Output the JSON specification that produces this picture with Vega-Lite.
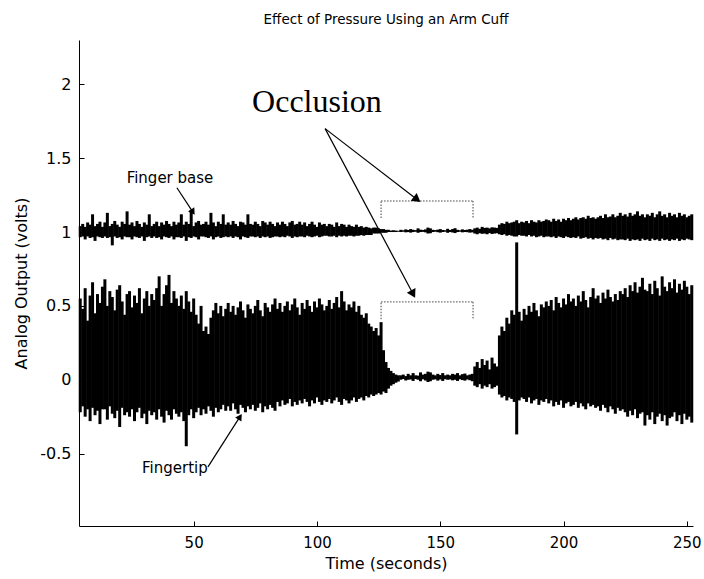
{
 "$schema": "https://vega.github.io/schema/vega-lite/v6.json",
 "width": 614, "height": 486,
 "autosize": {"type": "none"},
 "padding": {"left": 79, "top": 40, "right": 11, "bottom": 53},
 "background": "white",
 "config": {
  "view": {"stroke": null},
  "axis": {"grid": false, "domainColor": "black", "tickColor": "black", "labelColor": "black", "titleColor": "black", "labelFont": "DejaVu Sans", "titleFont": "DejaVu Sans", "titleFontWeight": "normal", "domainWidth": 1, "tickWidth": 1}
 },
 "title": {"text": "Effect of Pressure Using an Arm Cuff", "font": "DejaVu Sans", "fontSize": 13.5, "fontWeight": "normal", "color": "black", "anchor": "middle", "offset": 14},
 "datasets": {
  "signal": [
{"t":4,"tipHi":0.55,"tipLo":-0.22,"baseHi":1.04,"baseLo":0.965},
{"t":5,"tipHi":0.48,"tipLo":-0.18,"baseHi":1.055,"baseLo":0.97},
{"t":6,"tipHi":0.62,"tipLo":-0.25,"baseHi":1.035,"baseLo":0.95},
{"t":7,"tipHi":0.40,"tipLo":-0.20,"baseHi":1.065,"baseLo":0.97},
{"t":8,"tipHi":0.57,"tipLo":-0.28,"baseHi":1.05,"baseLo":0.96},
{"t":9,"tipHi":0.66,"tipLo":-0.19,"baseHi":1.12,"baseLo":0.965},
{"t":10,"tipHi":0.45,"tipLo":-0.24,"baseHi":1.04,"baseLo":0.94},
{"t":11,"tipHi":0.58,"tipLo":-0.21,"baseHi":1.055,"baseLo":0.97},
{"t":12,"tipHi":0.52,"tipLo":-0.30,"baseHi":1.07,"baseLo":0.965},
{"t":13,"tipHi":0.63,"tipLo":-0.20,"baseHi":1.035,"baseLo":0.96},
{"t":14,"tipHi":0.68,"tipLo":-0.20,"baseHi":1.065,"baseLo":0.97},
{"t":15,"tipHi":0.50,"tipLo":-0.27,"baseHi":1.13,"baseLo":0.96},
{"t":16,"tipHi":0.60,"tipLo":-0.18,"baseHi":1.04,"baseLo":0.965},
{"t":17,"tipHi":0.56,"tipLo":-0.23,"baseHi":1.055,"baseLo":0.91},
{"t":18,"tipHi":0.47,"tipLo":-0.26,"baseHi":1.075,"baseLo":0.97},
{"t":19,"tipHi":0.61,"tipLo":-0.21,"baseHi":1.05,"baseLo":0.96},
{"t":20,"tipHi":0.64,"tipLo":-0.32,"baseHi":1.035,"baseLo":0.965},
{"t":21,"tipHi":0.53,"tipLo":-0.19,"baseHi":1.07,"baseLo":0.95},
{"t":22,"tipHi":0.44,"tipLo":-0.24,"baseHi":1.055,"baseLo":0.97},
{"t":23,"tipHi":0.58,"tipLo":-0.22,"baseHi":1.14,"baseLo":0.965},
{"t":24,"tipHi":0.60,"tipLo":-0.25,"baseHi":1.05,"baseLo":0.965},
{"t":25,"tipHi":0.49,"tipLo":-0.20,"baseHi":1.065,"baseLo":0.95},
{"t":26,"tipHi":0.57,"tipLo":-0.28,"baseHi":1.04,"baseLo":0.97},
{"t":27,"tipHi":0.52,"tipLo":-0.22,"baseHi":1.075,"baseLo":0.965},
{"t":28,"tipHi":0.62,"tipLo":-0.19,"baseHi":1.055,"baseLo":0.96},
{"t":29,"tipHi":0.45,"tipLo":-0.26,"baseHi":1.035,"baseLo":0.97},
{"t":30,"tipHi":0.55,"tipLo":-0.23,"baseHi":1.065,"baseLo":0.94},
{"t":31,"tipHi":0.60,"tipLo":-0.30,"baseHi":1.05,"baseLo":0.965},
{"t":32,"tipHi":0.50,"tipLo":-0.21,"baseHi":1.12,"baseLo":0.97},
{"t":33,"tipHi":0.58,"tipLo":-0.24,"baseHi":1.04,"baseLo":0.96},
{"t":34,"tipHi":0.54,"tipLo":-0.22,"baseHi":1.055,"baseLo":0.97},
{"t":35,"tipHi":0.62,"tipLo":-0.27,"baseHi":1.07,"baseLo":0.96},
{"t":36,"tipHi":0.70,"tipLo":-0.20,"baseHi":1.04,"baseLo":0.965},
{"t":37,"tipHi":0.50,"tipLo":-0.25,"baseHi":1.065,"baseLo":0.95},
{"t":38,"tipHi":0.58,"tipLo":-0.29,"baseHi":1.05,"baseLo":0.97},
{"t":39,"tipHi":0.64,"tipLo":-0.21,"baseHi":1.075,"baseLo":0.965},
{"t":40,"tipHi":0.71,"tipLo":-0.24,"baseHi":1.055,"baseLo":0.96},
{"t":41,"tipHi":0.52,"tipLo":-0.27,"baseHi":1.04,"baseLo":0.97},
{"t":42,"tipHi":0.60,"tipLo":-0.20,"baseHi":1.07,"baseLo":0.95},
{"t":43,"tipHi":0.55,"tipLo":-0.23,"baseHi":1.05,"baseLo":0.965},
{"t":44,"tipHi":0.50,"tipLo":-0.25,"baseHi":1.065,"baseLo":0.965},
{"t":45,"tipHi":0.57,"tipLo":-0.22,"baseHi":1.12,"baseLo":0.96},
{"t":46,"tipHi":0.48,"tipLo":-0.28,"baseHi":1.05,"baseLo":0.97},
{"t":47,"tipHi":0.60,"tipLo":-0.45,"baseHi":1.07,"baseLo":0.94},
{"t":48,"tipHi":0.53,"tipLo":-0.24,"baseHi":1.055,"baseLo":0.965},
{"t":49,"tipHi":0.46,"tipLo":-0.20,"baseHi":1.15,"baseLo":0.96},
{"t":50,"tipHi":0.55,"tipLo":-0.26,"baseHi":1.04,"baseLo":0.97},
{"t":51,"tipHi":0.44,"tipLo":-0.22,"baseHi":1.065,"baseLo":0.965},
{"t":52,"tipHi":0.38,"tipLo":-0.19,"baseHi":1.075,"baseLo":0.95},
{"t":53,"tipHi":0.50,"tipLo":-0.24,"baseHi":1.05,"baseLo":0.97},
{"t":54,"tipHi":0.33,"tipLo":-0.20,"baseHi":1.055,"baseLo":0.97},
{"t":55,"tipHi":0.36,"tipLo":-0.23,"baseHi":1.07,"baseLo":0.965},
{"t":56,"tipHi":0.31,"tipLo":-0.18,"baseHi":1.05,"baseLo":0.96},
{"t":57,"tipHi":0.42,"tipLo":-0.21,"baseHi":1.13,"baseLo":0.97},
{"t":58,"tipHi":0.47,"tipLo":-0.25,"baseHi":1.065,"baseLo":0.95},
{"t":59,"tipHi":0.52,"tipLo":-0.19,"baseHi":1.04,"baseLo":0.965},
{"t":60,"tipHi":0.45,"tipLo":-0.22,"baseHi":1.07,"baseLo":0.97},
{"t":61,"tipHi":0.50,"tipLo":-0.20,"baseHi":1.055,"baseLo":0.96},
{"t":62,"tipHi":0.43,"tipLo":-0.17,"baseHi":1.12,"baseLo":0.965},
{"t":63,"tipHi":0.48,"tipLo":-0.21,"baseHi":1.05,"baseLo":0.97},
{"t":64,"tipHi":0.52,"tipLo":-0.18,"baseHi":1.065,"baseLo":0.965},
{"t":65,"tipHi":0.46,"tipLo":-0.21,"baseHi":1.05,"baseLo":0.97},
{"t":66,"tipHi":0.50,"tipLo":-0.16,"baseHi":1.075,"baseLo":0.96},
{"t":67,"tipHi":0.44,"tipLo":-0.20,"baseHi":1.055,"baseLo":0.97},
{"t":68,"tipHi":0.49,"tipLo":-0.23,"baseHi":1.04,"baseLo":0.965},
{"t":69,"tipHi":0.53,"tipLo":-0.17,"baseHi":1.07,"baseLo":0.95},
{"t":70,"tipHi":0.47,"tipLo":-0.19,"baseHi":1.065,"baseLo":0.97},
{"t":71,"tipHi":0.42,"tipLo":-0.22,"baseHi":1.05,"baseLo":0.965},
{"t":72,"tipHi":0.51,"tipLo":-0.18,"baseHi":1.12,"baseLo":0.96},
{"t":73,"tipHi":0.48,"tipLo":-0.20,"baseHi":1.055,"baseLo":0.97},
{"t":74,"tipHi":0.45,"tipLo":-0.17,"baseHi":1.05,"baseLo":0.97},
{"t":75,"tipHi":0.50,"tipLo":-0.21,"baseHi":1.07,"baseLo":0.965},
{"t":76,"tipHi":0.54,"tipLo":-0.19,"baseHi":1.055,"baseLo":0.97},
{"t":77,"tipHi":0.47,"tipLo":-0.16,"baseHi":1.04,"baseLo":0.96},
{"t":78,"tipHi":0.43,"tipLo":-0.22,"baseHi":1.075,"baseLo":0.97},
{"t":79,"tipHi":0.52,"tipLo":-0.18,"baseHi":1.065,"baseLo":0.965},
{"t":80,"tipHi":0.49,"tipLo":-0.20,"baseHi":1.05,"baseLo":0.97},
{"t":81,"tipHi":0.46,"tipLo":-0.17,"baseHi":1.07,"baseLo":0.96},
{"t":82,"tipHi":0.51,"tipLo":-0.19,"baseHi":1.055,"baseLo":0.965},
{"t":83,"tipHi":0.55,"tipLo":-0.21,"baseHi":1.04,"baseLo":0.97},
{"t":84,"tipHi":0.48,"tipLo":-0.15,"baseHi":1.065,"baseLo":0.97},
{"t":85,"tipHi":0.52,"tipLo":-0.18,"baseHi":1.05,"baseLo":0.965},
{"t":86,"tipHi":0.46,"tipLo":-0.14,"baseHi":1.07,"baseLo":0.97},
{"t":87,"tipHi":0.50,"tipLo":-0.17,"baseHi":1.055,"baseLo":0.965},
{"t":88,"tipHi":0.53,"tipLo":-0.16,"baseHi":1.04,"baseLo":0.975},
{"t":89,"tipHi":0.47,"tipLo":-0.13,"baseHi":1.065,"baseLo":0.97},
{"t":90,"tipHi":0.51,"tipLo":-0.18,"baseHi":1.075,"baseLo":0.96},
{"t":91,"tipHi":0.55,"tipLo":-0.15,"baseHi":1.05,"baseLo":0.97},
{"t":92,"tipHi":0.49,"tipLo":-0.17,"baseHi":1.055,"baseLo":0.965},
{"t":93,"tipHi":0.44,"tipLo":-0.14,"baseHi":1.07,"baseLo":0.97},
{"t":94,"tipHi":0.52,"tipLo":-0.16,"baseHi":1.05,"baseLo":0.97},
{"t":95,"tipHi":0.48,"tipLo":-0.13,"baseHi":1.065,"baseLo":0.965},
{"t":96,"tipHi":0.54,"tipLo":-0.15,"baseHi":1.04,"baseLo":0.975},
{"t":97,"tipHi":0.50,"tipLo":-0.18,"baseHi":1.055,"baseLo":0.97},
{"t":98,"tipHi":0.46,"tipLo":-0.14,"baseHi":1.07,"baseLo":0.965},
{"t":99,"tipHi":0.53,"tipLo":-0.16,"baseHi":1.05,"baseLo":0.97},
{"t":100,"tipHi":0.49,"tipLo":-0.12,"baseHi":1.035,"baseLo":0.975},
{"t":101,"tipHi":0.55,"tipLo":-0.15,"baseHi":1.065,"baseLo":0.965},
{"t":102,"tipHi":0.51,"tipLo":-0.17,"baseHi":1.05,"baseLo":0.97},
{"t":103,"tipHi":0.47,"tipLo":-0.14,"baseHi":1.055,"baseLo":0.975},
{"t":104,"tipHi":0.50,"tipLo":-0.15,"baseHi":1.04,"baseLo":0.975},
{"t":105,"tipHi":0.54,"tipLo":-0.13,"baseHi":1.055,"baseLo":0.97},
{"t":106,"tipHi":0.48,"tipLo":-0.16,"baseHi":1.05,"baseLo":0.97},
{"t":107,"tipHi":0.52,"tipLo":-0.14,"baseHi":1.035,"baseLo":0.975},
{"t":108,"tipHi":0.56,"tipLo":-0.12,"baseHi":1.065,"baseLo":0.965},
{"t":109,"tipHi":0.49,"tipLo":-0.15,"baseHi":1.04,"baseLo":0.975},
{"t":110,"tipHi":0.60,"tipLo":-0.17,"baseHi":1.055,"baseLo":0.97},
{"t":111,"tipHi":0.53,"tipLo":-0.13,"baseHi":1.05,"baseLo":0.975},
{"t":112,"tipHi":0.47,"tipLo":-0.14,"baseHi":1.035,"baseLo":0.97},
{"t":113,"tipHi":0.51,"tipLo":-0.16,"baseHi":1.05,"baseLo":0.975},
{"t":114,"tipHi":0.49,"tipLo":-0.14,"baseHi":1.04,"baseLo":0.975},
{"t":115,"tipHi":0.53,"tipLo":-0.12,"baseHi":1.035,"baseLo":0.97},
{"t":116,"tipHi":0.46,"tipLo":-0.15,"baseHi":1.05,"baseLo":0.975},
{"t":117,"tipHi":0.50,"tipLo":-0.13,"baseHi":1.035,"baseLo":0.975},
{"t":118,"tipHi":0.44,"tipLo":-0.12,"baseHi":1.04,"baseLo":0.98},
{"t":119,"tipHi":0.42,"tipLo":-0.14,"baseHi":1.03,"baseLo":0.975},
{"t":120,"tipHi":0.45,"tipLo":-0.11,"baseHi":1.035,"baseLo":0.98},
{"t":121,"tipHi":0.38,"tipLo":-0.12,"baseHi":1.03,"baseLo":0.98},
{"t":122,"tipHi":0.36,"tipLo":-0.10,"baseHi":1.025,"baseLo":0.98},
{"t":123,"tipHi":0.33,"tipLo":-0.11,"baseHi":1.03,"baseLo":0.99},
{"t":124,"tipHi":0.35,"tipLo":-0.10,"baseHi":1.03,"baseLo":0.99},
{"t":125,"tipHi":0.30,"tipLo":-0.09,"baseHi":1.025,"baseLo":0.99},
{"t":126,"tipHi":0.39,"tipLo":-0.10,"baseHi":1.02,"baseLo":0.995},
{"t":127,"tipHi":0.20,"tipLo":-0.08,"baseHi":1.02,"baseLo":0.995},
{"t":128,"tipHi":0.12,"tipLo":-0.09,"baseHi":1.015,"baseLo":0.995},
{"t":129,"tipHi":0.08,"tipLo":-0.06,"baseHi":1.015,"baseLo":1.0},
{"t":130,"tipHi":0.06,"tipLo":-0.04,"baseHi":1.01,"baseLo":1.0},
{"t":131,"tipHi":0.045,"tipLo":-0.03,"baseHi":1.012,"baseLo":1.0},
{"t":132,"tipHi":0.035,"tipLo":-0.02,"baseHi":1.01,"baseLo":1.0},
{"t":133,"tipHi":0.03,"tipLo":-0.012,"baseHi":1.008,"baseLo":1.002},
{"t":134,"tipHi":0.03,"tipLo":0.0,"baseHi":1.015,"baseLo":1.0},
{"t":135,"tipHi":0.035,"tipLo":0.005,"baseHi":1.012,"baseLo":1.002},
{"t":136,"tipHi":0.025,"tipLo":-0.005,"baseHi":1.018,"baseLo":0.998},
{"t":137,"tipHi":0.04,"tipLo":0.0,"baseHi":1.014,"baseLo":1.0},
{"t":138,"tipHi":0.03,"tipLo":0.002,"baseHi":1.02,"baseLo":0.996},
{"t":139,"tipHi":0.045,"tipLo":-0.008,"baseHi":1.015,"baseLo":1.0},
{"t":140,"tipHi":0.03,"tipLo":0.005,"baseHi":1.013,"baseLo":1.002},
{"t":141,"tipHi":0.028,"tipLo":0.0,"baseHi":1.025,"baseLo":0.995},
{"t":142,"tipHi":0.05,"tipLo":-0.01,"baseHi":1.016,"baseLo":1.0},
{"t":143,"tipHi":0.035,"tipLo":0.003,"baseHi":1.014,"baseLo":1.001},
{"t":144,"tipHi":0.04,"tipLo":-0.005,"baseHi":1.018,"baseLo":0.998},
{"t":145,"tipHi":0.055,"tipLo":-0.015,"baseHi":1.03,"baseLo":0.99},
{"t":146,"tipHi":0.05,"tipLo":-0.01,"baseHi":1.025,"baseLo":0.992},
{"t":147,"tipHi":0.035,"tipLo":0.0,"baseHi":1.015,"baseLo":1.0},
{"t":148,"tipHi":0.03,"tipLo":0.003,"baseHi":1.013,"baseLo":1.002},
{"t":149,"tipHi":0.04,"tipLo":-0.006,"baseHi":1.016,"baseLo":0.999},
{"t":150,"tipHi":0.032,"tipLo":0.002,"baseHi":1.02,"baseLo":0.996},
{"t":151,"tipHi":0.045,"tipLo":-0.008,"baseHi":1.014,"baseLo":1.0},
{"t":152,"tipHi":0.03,"tipLo":0.004,"baseHi":1.012,"baseLo":1.002},
{"t":153,"tipHi":0.035,"tipLo":0.0,"baseHi":1.022,"baseLo":0.995},
{"t":154,"tipHi":0.03,"tipLo":0.002,"baseHi":1.014,"baseLo":1.0},
{"t":155,"tipHi":0.04,"tipLo":-0.004,"baseHi":1.02,"baseLo":0.997},
{"t":156,"tipHi":0.035,"tipLo":0.0,"baseHi":1.026,"baseLo":0.993},
{"t":157,"tipHi":0.045,"tipLo":-0.008,"baseHi":1.015,"baseLo":1.0},
{"t":158,"tipHi":0.03,"tipLo":0.003,"baseHi":1.012,"baseLo":1.002},
{"t":159,"tipHi":0.038,"tipLo":-0.002,"baseHi":1.018,"baseLo":0.998},
{"t":160,"tipHi":0.042,"tipLo":-0.006,"baseHi":1.014,"baseLo":1.0},
{"t":161,"tipHi":0.03,"tipLo":0.002,"baseHi":1.016,"baseLo":0.999},
{"t":162,"tipHi":0.035,"tipLo":-0.003,"baseHi":1.02,"baseLo":0.996},
{"t":163,"tipHi":0.04,"tipLo":-0.01,"baseHi":1.015,"baseLo":0.998},
{"t":164,"tipHi":0.09,"tipLo":-0.04,"baseHi":1.025,"baseLo":0.99},
{"t":165,"tipHi":0.12,"tipLo":-0.05,"baseHi":1.03,"baseLo":0.985},
{"t":166,"tipHi":0.08,"tipLo":-0.03,"baseHi":1.022,"baseLo":0.992},
{"t":167,"tipHi":0.14,"tipLo":-0.06,"baseHi":1.035,"baseLo":0.988},
{"t":168,"tipHi":0.10,"tipLo":-0.04,"baseHi":1.028,"baseLo":0.99},
{"t":169,"tipHi":0.13,"tipLo":-0.05,"baseHi":1.03,"baseLo":0.985},
{"t":170,"tipHi":0.07,"tipLo":-0.03,"baseHi":1.025,"baseLo":0.993},
{"t":171,"tipHi":0.15,"tipLo":-0.06,"baseHi":1.032,"baseLo":0.987},
{"t":172,"tipHi":0.11,"tipLo":-0.05,"baseHi":1.03,"baseLo":0.99},
{"t":173,"tipHi":0.09,"tipLo":-0.04,"baseHi":1.028,"baseLo":0.992},
{"t":174,"tipHi":0.30,"tipLo":-0.10,"baseHi":1.05,"baseLo":0.985},
{"t":175,"tipHi":0.36,"tipLo":-0.12,"baseHi":1.06,"baseLo":0.98},
{"t":176,"tipHi":0.33,"tipLo":-0.11,"baseHi":1.055,"baseLo":0.985},
{"t":177,"tipHi":0.42,"tipLo":-0.14,"baseHi":1.07,"baseLo":0.975},
{"t":178,"tipHi":0.38,"tipLo":-0.12,"baseHi":1.06,"baseLo":0.98},
{"t":179,"tipHi":0.47,"tipLo":-0.13,"baseHi":1.065,"baseLo":0.975},
{"t":180,"tipHi":0.44,"tipLo":-0.15,"baseHi":1.07,"baseLo":0.97},
{"t":181,"tipHi":0.93,"tipLo":-0.37,"baseHi":1.08,"baseLo":0.97},
{"t":182,"tipHi":0.46,"tipLo":-0.14,"baseHi":1.06,"baseLo":0.98},
{"t":183,"tipHi":0.40,"tipLo":-0.12,"baseHi":1.07,"baseLo":0.975},
{"t":184,"tipHi":0.48,"tipLo":-0.13,"baseHi":1.065,"baseLo":0.975},
{"t":185,"tipHi":0.44,"tipLo":-0.15,"baseHi":1.075,"baseLo":0.97},
{"t":186,"tipHi":0.50,"tipLo":-0.12,"baseHi":1.06,"baseLo":0.98},
{"t":187,"tipHi":0.46,"tipLo":-0.16,"baseHi":1.08,"baseLo":0.97},
{"t":188,"tipHi":0.52,"tipLo":-0.14,"baseHi":1.07,"baseLo":0.975},
{"t":189,"tipHi":0.47,"tipLo":-0.13,"baseHi":1.065,"baseLo":0.965},
{"t":190,"tipHi":0.43,"tipLo":-0.17,"baseHi":1.08,"baseLo":0.97},
{"t":191,"tipHi":0.51,"tipLo":-0.14,"baseHi":1.07,"baseLo":0.975},
{"t":192,"tipHi":0.49,"tipLo":-0.15,"baseHi":1.075,"baseLo":0.965},
{"t":193,"tipHi":0.53,"tipLo":-0.13,"baseHi":1.085,"baseLo":0.97},
{"t":194,"tipHi":0.50,"tipLo":-0.16,"baseHi":1.08,"baseLo":0.97},
{"t":195,"tipHi":0.54,"tipLo":-0.14,"baseHi":1.07,"baseLo":0.965},
{"t":196,"tipHi":0.47,"tipLo":-0.18,"baseHi":1.09,"baseLo":0.97},
{"t":197,"tipHi":0.56,"tipLo":-0.15,"baseHi":1.075,"baseLo":0.96},
{"t":198,"tipHi":0.52,"tipLo":-0.17,"baseHi":1.085,"baseLo":0.97},
{"t":199,"tipHi":0.49,"tipLo":-0.14,"baseHi":1.07,"baseLo":0.965},
{"t":200,"tipHi":0.55,"tipLo":-0.19,"baseHi":1.09,"baseLo":0.96},
{"t":201,"tipHi":0.51,"tipLo":-0.16,"baseHi":1.08,"baseLo":0.97},
{"t":202,"tipHi":0.58,"tipLo":-0.15,"baseHi":1.095,"baseLo":0.965},
{"t":203,"tipHi":0.53,"tipLo":-0.18,"baseHi":1.08,"baseLo":0.96},
{"t":204,"tipHi":0.55,"tipLo":-0.17,"baseHi":1.09,"baseLo":0.965},
{"t":205,"tipHi":0.50,"tipLo":-0.15,"baseHi":1.10,"baseLo":0.96},
{"t":206,"tipHi":0.57,"tipLo":-0.19,"baseHi":1.085,"baseLo":0.97},
{"t":207,"tipHi":0.53,"tipLo":-0.16,"baseHi":1.095,"baseLo":0.955},
{"t":208,"tipHi":0.60,"tipLo":-0.18,"baseHi":1.10,"baseLo":0.96},
{"t":209,"tipHi":0.54,"tipLo":-0.20,"baseHi":1.09,"baseLo":0.965},
{"t":210,"tipHi":0.49,"tipLo":-0.16,"baseHi":1.11,"baseLo":0.955},
{"t":211,"tipHi":0.56,"tipLo":-0.18,"baseHi":1.095,"baseLo":0.96},
{"t":212,"tipHi":0.62,"tipLo":-0.17,"baseHi":1.10,"baseLo":0.95},
{"t":213,"tipHi":0.55,"tipLo":-0.19,"baseHi":1.09,"baseLo":0.96},
{"t":214,"tipHi":0.57,"tipLo":-0.18,"baseHi":1.10,"baseLo":0.955},
{"t":215,"tipHi":0.52,"tipLo":-0.21,"baseHi":1.11,"baseLo":0.96},
{"t":216,"tipHi":0.59,"tipLo":-0.17,"baseHi":1.095,"baseLo":0.95},
{"t":217,"tipHi":0.55,"tipLo":-0.19,"baseHi":1.12,"baseLo":0.955},
{"t":218,"tipHi":0.61,"tipLo":-0.22,"baseHi":1.10,"baseLo":0.945},
{"t":219,"tipHi":0.56,"tipLo":-0.18,"baseHi":1.105,"baseLo":0.96},
{"t":220,"tipHi":0.53,"tipLo":-0.20,"baseHi":1.12,"baseLo":0.95},
{"t":221,"tipHi":0.58,"tipLo":-0.23,"baseHi":1.10,"baseLo":0.955},
{"t":222,"tipHi":0.54,"tipLo":-0.19,"baseHi":1.11,"baseLo":0.945},
{"t":223,"tipHi":0.60,"tipLo":-0.21,"baseHi":1.13,"baseLo":0.95},
{"t":224,"tipHi":0.58,"tipLo":-0.20,"baseHi":1.11,"baseLo":0.95},
{"t":225,"tipHi":0.62,"tipLo":-0.22,"baseHi":1.12,"baseLo":0.945},
{"t":226,"tipHi":0.56,"tipLo":-0.25,"baseHi":1.105,"baseLo":0.955},
{"t":227,"tipHi":0.64,"tipLo":-0.21,"baseHi":1.13,"baseLo":0.94},
{"t":228,"tipHi":0.60,"tipLo":-0.24,"baseHi":1.11,"baseLo":0.95},
{"t":229,"tipHi":0.66,"tipLo":-0.20,"baseHi":1.12,"baseLo":0.945},
{"t":230,"tipHi":0.59,"tipLo":-0.26,"baseHi":1.14,"baseLo":0.95},
{"t":231,"tipHi":0.63,"tipLo":-0.23,"baseHi":1.11,"baseLo":0.94},
{"t":232,"tipHi":0.69,"tipLo":-0.22,"baseHi":1.12,"baseLo":0.955},
{"t":233,"tipHi":0.61,"tipLo":-0.31,"baseHi":1.10,"baseLo":0.945},
{"t":234,"tipHi":0.60,"tipLo":-0.24,"baseHi":1.12,"baseLo":0.95},
{"t":235,"tipHi":0.65,"tipLo":-0.27,"baseHi":1.11,"baseLo":0.94},
{"t":236,"tipHi":0.58,"tipLo":-0.22,"baseHi":1.13,"baseLo":0.955},
{"t":237,"tipHi":0.67,"tipLo":-0.30,"baseHi":1.10,"baseLo":0.945},
{"t":238,"tipHi":0.62,"tipLo":-0.25,"baseHi":1.12,"baseLo":0.95},
{"t":239,"tipHi":0.57,"tipLo":-0.23,"baseHi":1.14,"baseLo":0.94},
{"t":240,"tipHi":0.70,"tipLo":-0.28,"baseHi":1.11,"baseLo":0.955},
{"t":241,"tipHi":0.63,"tipLo":-0.24,"baseHi":1.12,"baseLo":0.945},
{"t":242,"tipHi":0.60,"tipLo":-0.31,"baseHi":1.10,"baseLo":0.95},
{"t":243,"tipHi":0.66,"tipLo":-0.26,"baseHi":1.13,"baseLo":0.94},
{"t":244,"tipHi":0.62,"tipLo":-0.25,"baseHi":1.11,"baseLo":0.95},
{"t":245,"tipHi":0.68,"tipLo":-0.22,"baseHi":1.12,"baseLo":0.945},
{"t":246,"tipHi":0.59,"tipLo":-0.28,"baseHi":1.10,"baseLo":0.955},
{"t":247,"tipHi":0.65,"tipLo":-0.24,"baseHi":1.13,"baseLo":0.94},
{"t":248,"tipHi":0.61,"tipLo":-0.30,"baseHi":1.11,"baseLo":0.95},
{"t":249,"tipHi":0.67,"tipLo":-0.23,"baseHi":1.12,"baseLo":0.945},
{"t":250,"tipHi":0.63,"tipLo":-0.27,"baseHi":1.10,"baseLo":0.955},
{"t":251,"tipHi":0.58,"tipLo":-0.25,"baseHi":1.11,"baseLo":0.95},
{"t":252,"tipHi":0.64,"tipLo":-0.29,"baseHi":1.12,"baseLo":0.945}
  ],
  "brackets": [
   {"t": 126, "v": 1.095, "t2": 126, "v2": 1.21},
   {"t": 126, "v": 1.21, "t2": 163.3, "v2": 1.21},
   {"t": 163.3, "v": 1.21, "t2": 163.3, "v2": 1.095},
   {"t": 126, "v": 0.41, "t2": 126, "v2": 0.527},
   {"t": 126, "v": 0.527, "t2": 163.3, "v2": 0.527},
   {"t": 163.3, "v": 0.527, "t2": 163.3, "v2": 0.41}
  ],
  "arrows": [
   {"name": "occBase", "t": 103.3, "v": 1.70, "t2": 140.6, "v2": 1.22},
   {"name": "occTip", "t": 103.3, "v": 1.70, "t2": 139.0, "v2": 0.58},
   {"name": "base", "t": 43.2, "v": 1.30, "t2": 49.7, "v2": 1.135},
   {"name": "tip", "t": 55.8, "v": -0.59, "t2": 68.8, "v2": -0.25}
  ],
  "labels": [
   {"t": 40.4, "v": 1.365, "text": "Finger base"},
   {"t": 42.4, "v": -0.60, "text": "Fingertip"}
  ],
  "headline": [
   {"t": 100, "v": 1.88, "text": "Occlusion"}
  ]
 },
 "layer": [
  {
   "data": {"name": "signal"},
   "mark": {"type": "rule", "strokeWidth": 3, "color": "black"},
   "encoding": {
    "x": {"field": "t", "type": "quantitative", "scale": {"domain": [3.5, 252.5], "nice": false, "zero": false},
      "axis": {"title": "Time (seconds)", "values": [50, 100, 150, 200, 250], "format": "d", "tickSize": -5, "labelPadding": 14, "labelFontSize": 15, "titleFontSize": 16, "titlePadding": 5}},
    "y": {"field": "tipLo", "type": "quantitative", "scale": {"domain": [-0.99, 2.3], "nice": false, "zero": false},
      "axis": {"title": "Analog Output (volts)", "values": [-0.5, 0, 0.5, 1, 1.5, 2], "format": "~g", "labelExpr": "replace(datum.label, '−', '-')", "tickSize": -5, "labelPadding": 13, "labelFontSize": 16, "titleFontSize": 16, "titlePadding": 10}},
    "y2": {"field": "tipHi"}
   }
  },
  {
   "data": {"name": "signal"},
   "mark": {"type": "rule", "strokeWidth": 3, "color": "black"},
   "encoding": {
    "x": {"field": "t", "type": "quantitative"},
    "y": {"field": "baseLo", "type": "quantitative"},
    "y2": {"field": "baseHi"}
   }
  },
  {
   "data": {"name": "brackets"},
   "mark": {"type": "rule", "strokeWidth": 1, "color": "#444", "strokeDash": [1.5, 1.5]},
   "encoding": {
    "x": {"field": "t", "type": "quantitative"},
    "y": {"field": "v", "type": "quantitative"},
    "x2": {"field": "t2"},
    "y2": {"field": "v2"}
   }
  },
  {
   "data": {"name": "arrows"},
   "mark": {"type": "rule", "strokeWidth": 1.2, "color": "black"},
   "encoding": {
    "x": {"field": "t", "type": "quantitative"},
    "y": {"field": "v", "type": "quantitative"},
    "x2": {"field": "t2"},
    "y2": {"field": "v2"}
   }
  },
  {
   "data": {"name": "arrows"},
   "transform": [{"filter": "datum.name === 'occBase'"}],
   "mark": {"type": "point", "shape": "triangle-up", "filled": true, "color": "black", "opacity": 1, "size": 95, "angle": 127.7},
   "encoding": {"x": {"field": "t2", "type": "quantitative"}, "y": {"field": "v2", "type": "quantitative"}}
  },
  {
   "data": {"name": "arrows"},
   "transform": [{"filter": "datum.name === 'occTip'"}],
   "mark": {"type": "point", "shape": "triangle-up", "filled": true, "color": "black", "opacity": 1, "size": 95, "angle": 152.1},
   "encoding": {"x": {"field": "t2", "type": "quantitative"}, "y": {"field": "v2", "type": "quantitative"}}
  },
  {
   "data": {"name": "arrows"},
   "transform": [{"filter": "datum.name === 'base'"}],
   "mark": {"type": "point", "shape": "triangle-up", "filled": true, "color": "black", "opacity": 1, "size": 55, "angle": 146.7},
   "encoding": {"x": {"field": "t2", "type": "quantitative"}, "y": {"field": "v2", "type": "quantitative"}}
  },
  {
   "data": {"name": "arrows"},
   "transform": [{"filter": "datum.name === 'tip'"}],
   "mark": {"type": "point", "shape": "triangle-up", "filled": true, "color": "black", "opacity": 1, "size": 55, "angle": 32.5},
   "encoding": {"x": {"field": "t2", "type": "quantitative"}, "y": {"field": "v2", "type": "quantitative"}}
  },
  {
   "data": {"name": "labels"},
   "mark": {"type": "text", "font": "DejaVu Sans", "fontSize": 15, "color": "black", "align": "center", "baseline": "middle"},
   "encoding": {"x": {"field": "t", "type": "quantitative"}, "y": {"field": "v", "type": "quantitative"}, "text": {"field": "text"}}
  },
  {
   "data": {"name": "headline"},
   "mark": {"type": "text", "font": "Liberation Serif", "fontSize": 32, "color": "black", "align": "center", "baseline": "middle"},
   "encoding": {"x": {"field": "t", "type": "quantitative"}, "y": {"field": "v", "type": "quantitative"}, "text": {"field": "text"}}
  }
 ]
}
